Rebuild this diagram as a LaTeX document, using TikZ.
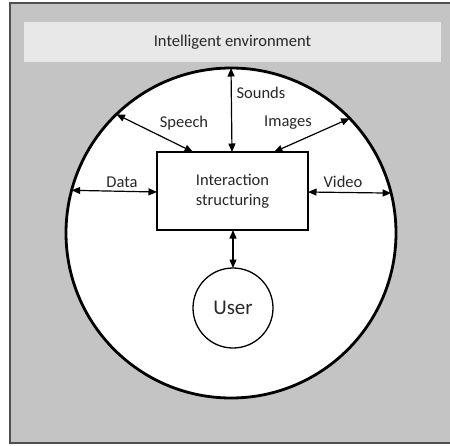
\documentclass[tikz,border=0pt]{standalone}
\usepackage{fontspec}
\setmainfont{Carlito}
\usetikzlibrary{arrows.meta}
\definecolor{panelgray}{RGB}{196,196,196}
\definecolor{bandgray}{RGB}{232,232,232}
\definecolor{framegray}{RGB}{80,80,80}
\definecolor{inkgray}{RGB}{40,40,40}
\tikzset{
  lbl/.style={font=\fontsize{16.5}{18}\selectfont, text=inkgray, inner sep=0pt},
  flow/.style={line width=1.2pt, {Triangle[length=8.5pt,width=7pt]}-{Triangle[length=8.5pt,width=7pt]}},
}
\begin{document}
\begin{tikzpicture}[x=1pt,y=-1pt]
\useasboundingbox (0,0) rectangle (450,445);
% grey panel with its frame (open on the right)
\fill[panelgray] (10,3) rectangle (450,443);
\draw[framegray, line width=1.8pt] (450,3) -- (10,3) -- (10,443) -- (450,443);
% title band
\node[fill=bandgray, minimum width=417pt, minimum height=40pt, inner sep=0pt] (band) at (232.5,42) {};
\node[lbl] (title) at (232.5,42) {Intelligent environment};
% environment circle
\node[circle, draw=black, fill=white, line width=2.8pt, minimum size=330pt, inner sep=0pt, outer sep=0pt] (env) at (231,233) {};
% central box
\node[draw=black, fill=white, line width=1.3pt, minimum width=151pt, minimum height=78pt, inner sep=0pt, outer sep=0pt,
      align=center, font=\fontsize{16.5}{20}\selectfont, text=inkgray] (core) at (232.5,191) {Interaction\\structuring};
% user circle
\node[circle, draw=black, line width=1.3pt, minimum size=80pt, inner sep=0pt, outer sep=0pt,
      font=\fontsize{21}{24}\selectfont, text=inkgray] (user) at (233,308) {User};
% anchor points on the box
\coordinate (coreSpeech) at (193,152);
\coordinate (coreImages) at (274,152);
\coordinate (coreSounds) at (232,152);
\coordinate (coreData) at (157,192);
\coordinate (coreVideo) at (308,192);
\coordinate (coreUser) at (233,230);
% connectors
\draw[flow] (env.90) -- (coreSounds);
\draw[flow] (env.134.5) -- (coreSpeech);
\draw[flow] (env.44.8) -- (coreImages);
\draw[flow] (env.165.3) -- (coreData);
\draw[flow] (env.14.3) -- (coreVideo);
\draw[flow] (coreUser) -- (user.north);
% labels
\node[lbl] (sounds) at (261,93) {Sounds};
\node[lbl] (speech) at (184,123) {Speech};
\node[lbl] (images) at (288,123) {Images};
\node[lbl] (data) at (122,182) {Data};
\node[lbl] (video) at (343,182) {Video};
\end{tikzpicture}
\end{document}
